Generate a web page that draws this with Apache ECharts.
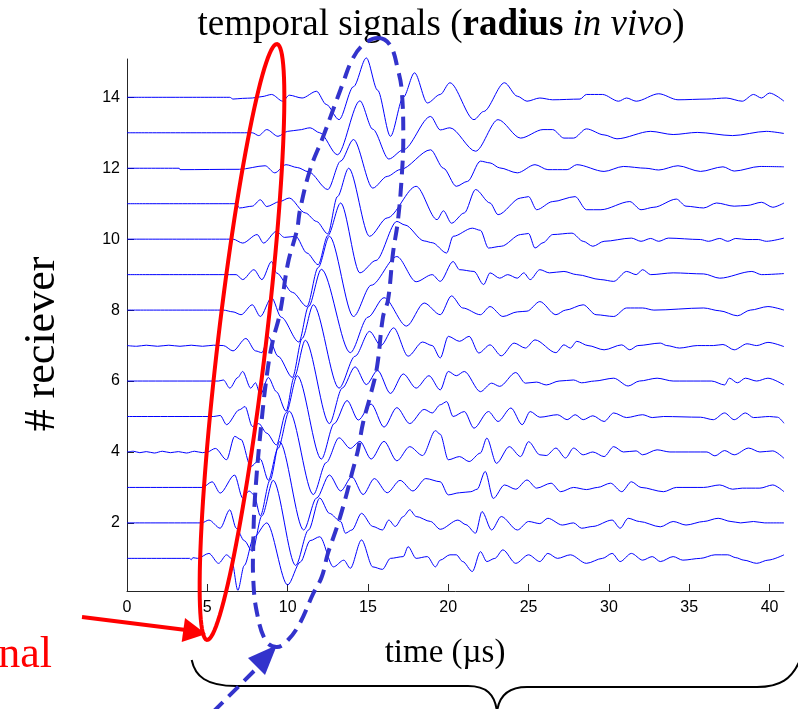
<!DOCTYPE html>
<html><head><meta charset="utf-8">
<script src="https://cdn.jsdelivr.net/npm/echarts@6/dist/echarts.min.js"></script>
<style>html,body{margin:0;padding:0;background:#fff}#c{width:798px;height:709px}</style>
</head><body><div id="c"></div>
<script>
const xTicks = [0, 5, 10, 15, 20, 25, 30, 35, 40];
const yTicks = [2, 4, 6, 8, 10, 12, 14];
const receivers = [1,2,3,4,5,6,7,8,9,10,11,12,13,14];
// each trace: [time (µs), amplitude about its receiver baseline]
const tr1 = [[0,0],[3.9,0],[4.0,-0.04],[4.1,0.02],[4.4,0],[5.1,0.14],[5.7,-0.14],[6.2,0.1],[6.5,0.0],[6.9,-0.9],[7.3,-0.2],[7.9,0.6],[8.7,1.0],[10.0,-0.75],[10.8,-0.1],[11.4,0.5],[12.0,0.61],[12.85,-0.24],[13.5,-0.05],[13.9,-0.28],[14.6,0.52],[15.3,-0.24],[15.9,-0.31],[16.4,0],[17.2,0.05],[17.5,0.33],[18.0,0],[18.7,0.05],[19.2,-0.24],[19.5,-0.05],[20.1,0.1],[20.5,0.1],[20.9,-0.09],[21.5,-0.37],[22.0,0.19],[22.4,-0.09],[22.9,0.0],[23.4,0.24],[24.2,-0.14],[25.0,0.1],[25.7,-0.09],[26.2,0.14],[26.8,0.0],[27.6,0.1],[28.6,-0.14],[29.6,0.0],[30.2,0.14],[30.7,-0.09],[31.4,0.14],[32.1,-0.05],[32.7,0.05],[33.2,-0.09],[34.0,0.05],[34.6,-0.05],[35.7,0.0],[36.6,0.1],[37.4,0.1],[37.9,0.02],[38.4,-0.05],[39.2,-0.14],[39.9,-0.05],[40.9,0.1]];
const tr2 = [[0,0],[4.65,0],[5.1,0.08],[5.8,-0.15],[6.4,0.37],[6.8,-0.15],[7.3,-0.5],[7.8,-0.8],[8.4,0.2],[9.1,1.2],[10.5,-1.2],[11.3,-0.2],[12.0,0.7],[12.6,0.27],[13.3,0.04],[13.6,-0.29],[14.0,-0.2],[14.6,0.27],[15.3,-0.1],[15.9,-0.2],[16.3,0.08],[16.7,-0.1],[17.2,0.18],[17.6,0.37],[18.0,0.18],[18.9,0.04],[19.5,-0.18],[20.6,0.08],[21.1,-0.05],[21.7,-0.29],[22.1,0.32],[22.7,-0.2],[23.3,0.18],[24.3,-0.2],[25.0,0.04],[25.7,-0.02],[26.2,0.13],[27.1,-0.06],[27.8,0.0],[28.3,-0.15],[29.0,-0.1],[30.2,0.08],[30.7,-0.15],[31.2,0.13],[31.9,0.04],[33.2,-0.11],[34.0,0.04],[34.8,-0.06],[35.9,0.04],[36.8,0.13],[37.6,0.04],[38.2,0.0],[39.0,0.04],[39.7,0.0],[40.9,0.0]];
const tr3 = [[0,0],[4.7,0],[5.3,0.16],[5.8,-0.16],[6.7,0.35],[7.2,-0.3],[7.6,-0.1],[7.9,-0.2],[8.3,-0.8],[8.9,0.2],[9.5,1.29],[11.0,-1.2],[11.8,-0.3],[12.6,0.35],[13.3,-0.1],[14.0,0.3],[14.7,-0.2],[15.4,0.25],[16.2,-0.15],[17.0,0.2],[17.8,-0.1],[18.6,0.25],[19.5,0.16],[20.0,-0.21],[20.7,-0.15],[21.4,-0.12],[21.8,-0.05],[22.3,0.45],[22.8,-0.31],[23.5,0.07],[24.2,-0.05],[24.9,0.21],[25.5,-0.02],[26.4,0.12],[27.0,-0.12],[27.8,0.0],[28.6,-0.06],[29.3,0.0],[30.1,0.12],[30.8,-0.12],[31.4,0.16],[32.0,0.0],[33.4,-0.12],[34.2,0.0],[35.9,0.0],[36.9,0.07],[37.7,-0.05],[38.3,-0.02],[39.4,-0.02],[40.2,0.07],[40.9,-0.12]];
const tr4 = [[0,0],[0.4,0.02],[0.8,-0.02],[1.2,0.01],[1.7,-0.03],[2.2,0.02],[2.7,-0.02],[3.2,0.01],[3.7,-0.03],[4.2,0.02],[4.7,-0.02],[5.0,0],[5.5,0.1],[6.2,-0.22],[6.7,0.44],[7.1,0.35],[7.7,-0.41],[8.3,-0.2],[8.8,-0.8],[9.4,0.1],[10.1,1.15],[11.6,-1.2],[12.4,-0.3],[13.2,0.4],[13.9,0.1],[14.5,0.3],[15.2,-0.2],[16.0,0.3],[16.8,-0.25],[17.6,0.15],[18.4,-0.1],[19.2,0.6],[19.5,0.5],[20.0,-0.22],[20.7,-0.13],[21.3,-0.27],[22.0,-0.03],[22.4,0.39],[23.0,-0.32],[23.8,0.15],[24.5,-0.13],[25.0,0.29],[25.7,-0.08],[26.1,-0.1],[26.7,0.11],[27.3,-0.17],[27.8,0.11],[28.4,-0.08],[29.0,0.0],[29.7,-0.13],[30.3,0.15],[30.9,0.0],[31.7,0.03],[32.1,-0.08],[33.0,0.06],[33.8,0.0],[35.3,0.0],[36.1,0.0],[36.6,-0.11],[37.2,0.04],[37.8,-0.08],[38.7,0.11],[39.4,0.0],[40.2,0.03],[40.9,-0.18]];
const tr5 = [[0,0],[5.4,0],[5.8,0.03],[6.2,-0.23],[7.0,0.19],[7.35,0.28],[7.8,-0.28],[8.2,-0.2],[8.7,-0.47],[9.3,-0.8],[9.9,0.1],[10.6,1.15],[12.1,-1.2],[12.9,-0.2],[13.7,0.45],[14.4,-0.1],[15.2,0.35],[16.0,-0.3],[16.8,0.25],[17.6,-0.2],[18.5,0.2],[19.0,0.1],[19.5,0.33],[19.9,0.42],[20.3,0.0],[21.0,0.14],[21.6,-0.33],[22.5,0.14],[23.1,-0.14],[23.9,0.24],[24.6,-0.23],[25.1,0.14],[25.7,-0.02],[26.8,0.05],[27.4,-0.09],[27.9,0.05],[28.4,-0.09],[29.0,0.02],[29.7,-0.14],[30.3,0.1],[31.1,-0.03],[32.1,0.05],[32.7,-0.03],[33.4,0.0],[35.7,-0.02],[36.5,-0.09],[37.2,0.1],[37.8,-0.09],[38.5,0.1],[39.0,-0.03],[40.0,0.0],[40.5,-0.02],[40.9,-0.19]];
const tr6 = [[0,0],[5.7,0],[6.0,0.03],[6.4,-0.2],[6.9,0.1],[7.2,0.27],[7.7,-0.2],[8.0,-0.05],[8.3,-0.39],[8.8,0.1],[9.3,-0.3],[9.9,-0.85],[10.4,0.1],[11.1,1.15],[12.6,-1.2],[13.4,-0.2],[14.2,0.4],[14.9,-0.1],[15.6,0.3],[16.4,-0.35],[17.2,0.2],[18.0,-0.2],[18.8,0.15],[19.5,-0.25],[20.0,0.27],[20.5,0.15],[21.0,0.27],[22.0,-0.3],[22.7,-0.06],[23.2,-0.15],[24.2,0.24],[24.8,-0.06],[25.5,-0.03],[26.1,-0.11],[26.9,0.0],[27.8,0.03],[28.3,-0.05],[29.1,0.0],[30.3,0.08],[31.2,-0.14],[31.9,0.0],[33.0,0.08],[34.0,0.0],[35.7,0.0],[36.4,0.0],[37.2,-0.11],[37.5,0.08],[38.0,-0.05],[38.5,0.08],[39.2,0.0],[39.9,0.08],[40.9,-0.11]];
const tr7 = [[0,0],[0.6,-0.02],[1.2,0.01],[1.9,-0.02],[2.6,0.01],[3.3,-0.02],[4.0,0.01],[4.7,-0.02],[5.4,0.01],[6.0,0],[6.6,-0.15],[7.4,0.2],[8.0,-0.15],[8.4,-0.2],[8.8,0.25],[9.4,-0.3],[10.3,-0.9],[10.9,0.2],[11.6,1.15],[13.2,-1.2],[14.2,-0.3],[15.1,0.4],[15.8,0.0],[16.6,0.5],[17.5,-0.3],[18.4,0.1],[19.0,0.0],[19.5,-0.35],[20.0,0.26],[20.7,0.12],[21.3,0.26],[21.9,-0.21],[22.6,0.02],[23.3,-0.29],[24.1,0.07],[24.8,-0.07],[25.4,0.16],[26.7,-0.2],[27.2,0.02],[27.6,-0.07],[28.0,0.12],[28.7,0.0],[29.7,-0.12],[30.8,0.02],[31.3,-0.12],[31.8,0.0],[33.2,0.07],[33.6,0.0],[34.4,-0.07],[35.5,0.0],[36.5,0.0],[37.1,0.03],[37.8,-0.12],[38.6,0.05],[39.2,0.0],[39.9,0.09],[40.9,-0.03]];
const tr8 = [[0,0],[6.0,0],[6.6,-0.05],[7.1,-0.13],[7.8,0.15],[8.3,-0.18],[9.0,0.35],[9.6,-0.2],[10.7,-0.9],[11.3,0.1],[12.1,1.15],[13.9,-1.2],[15.0,-0.2],[16.0,0.35],[17.4,-0.45],[18.5,0.2],[19.5,-0.13],[20.2,0.4],[20.9,0.06],[22.0,-0.13],[22.6,0.1],[23.4,-0.18],[24.3,-0.05],[24.9,-0.03],[25.7,0.24],[26.7,-0.13],[27.3,0.0],[28.4,0.15],[29.2,-0.13],[30.3,-0.18],[31.1,0.06],[32.1,0.06],[32.8,0.0],[35.9,0.06],[36.9,-0.02],[38.0,-0.16],[38.8,0.0],[39.9,0.1],[40.9,0.0]];
const tr9 = [[0,0],[6.8,0],[7.2,-0.14],[7.9,0.14],[8.4,-0.14],[9.0,0.37],[9.3,0.05],[10.3,-0.5],[11.2,-0.9],[11.9,0.2],[12.6,1.08],[14.1,-1.18],[15.2,-0.3],[16.8,0.51],[18.0,-0.2],[19.0,0.0],[19.5,-0.19],[20.3,0.37],[20.7,0.14],[21.6,0.09],[22.2,-0.28],[22.6,0.05],[23.2,-0.1],[23.7,0.0],[24.3,-0.1],[24.7,0.05],[25.1,-0.14],[25.7,0.14],[26.3,0.05],[27.2,0.09],[28.0,0.0],[29.5,-0.14],[30.3,-0.19],[31.1,0.09],[31.7,0.0],[32.1,0.14],[32.6,0.0],[34.0,0.05],[35.9,0.02],[36.9,-0.1],[38.9,0.09],[39.5,0.0],[40.9,0.03]];
const tr10 = [[0,0],[6.6,0],[7.2,-0.11],[8.1,0.13],[8.5,-0.11],[9.3,0.22],[9.8,0.05],[10.5,0.08],[11.2,-0.39],[11.9,-0.72],[12.5,0.1],[13.3,1.02],[14.5,-0.95],[15.5,-0.6],[16.8,0.5],[17.3,0.4],[18.5,-0.05],[19.0,-0.1],[19.9,-0.39],[20.3,0.08],[21.5,0.31],[22.0,0.25],[22.5,-0.25],[23.3,-0.2],[24.5,0.13],[25.0,0.16],[25.4,-0.25],[25.9,-0.1],[26.5,0.13],[27.7,0.17],[28.4,-0.06],[29.0,-0.2],[29.7,-0.06],[31.4,0.03],[32.0,-0.06],[32.6,0.02],[33.1,-0.06],[33.7,0.03],[35.7,-0.01],[36.2,-0.06],[36.9,0.02],[37.4,-0.06],[37.9,0.02],[38.6,-0.01],[39.3,-0.01],[39.8,-0.06],[40.9,0.03]];
const tr11 = [[0,0],[6.8,0],[7.0,-0.12],[7.8,-0.07],[8.3,0.11],[8.7,-0.08],[9.5,0.06],[10.1,0.16],[11.1,-0.26],[11.8,-0.5],[12.5,-0.85],[13.1,0.2],[13.8,1.0],[15.1,-0.92],[16.2,-0.4],[18.0,0.49],[19.3,-0.45],[19.7,-0.2],[20.2,-0.55],[21.0,-0.26],[21.7,0.4],[22.6,0.02],[23.1,-0.31],[24.5,0.16],[25.0,0.2],[25.5,-0.17],[26.5,0.06],[27.9,0.2],[28.6,-0.17],[29.5,-0.17],[31.3,0.06],[32.0,-0.17],[32.8,-0.1],[34.2,0.13],[34.8,-0.07],[35.9,-0.12],[36.7,0.02],[37.8,-0.07],[38.6,-0.05],[39.5,0.04],[40.2,-0.1],[40.9,0.02]];
const tr12 = [[0,0],[3.25,0],[3.3,-0.04],[7.0,-0.03],[8.6,0.07],[9.2,-0.13],[9.9,0.1],[10.6,0.02],[11.3,-0.1],[12.5,-0.6],[13.3,0.2],[14.1,0.81],[15.3,-0.56],[16.2,-0.23],[17.0,-0.04],[18.9,0.52],[19.7,0.0],[20.5,-0.51],[21.2,-0.37],[22.0,0.2],[22.6,0.15],[23.2,0.01],[24.3,-0.13],[25.4,0.1],[26.2,-0.04],[27.4,-0.04],[28.0,0.1],[29.7,-0.09],[30.9,0.05],[32.3,0.0],[33.1,-0.05],[34.3,0.07],[35.7,-0.09],[37.1,0.04],[37.8,-0.08],[39.4,0.05],[40.9,0.04]];
const tr13 = [[0,0],[7.8,0],[8.2,-0.08],[8.7,0.09],[9.4,-0.1],[10.0,0.04],[10.7,0.08],[11.4,0.14],[12.0,0],[13.1,-0.62],[14.5,0.9],[15.3,0.1],[16.3,-0.74],[17.2,-0.48],[18.9,0.46],[19.5,0.08],[20.1,0.14],[21.7,-0.52],[23.1,0.37],[24.5,-0.15],[25.9,0.09],[26.5,0.09],[27.2,-0.15],[27.8,-0.15],[28.6,0.11],[29.7,-0.06],[30.5,-0.17],[32.6,0.04],[34.0,-0.05],[35.5,0.01],[37.7,-0.08],[39.8,0.04],[40.9,-0.02]];
const tr14 = [[0,0],[6.4,0],[6.6,-0.05],[7.2,-0.03],[7.8,-0.02],[8.4,0.02],[9.0,0.08],[9.7,-0.11],[10.1,0.06],[10.9,-0.02],[11.8,0.17],[12.4,-0.2],[13.2,-0.63],[14.1,0.3],[14.9,1.11],[15.6,0.2],[16.4,-1.1],[17.2,0.0],[17.9,0.69],[18.7,-0.16],[19.5,0.08],[20.1,0.41],[21.6,-0.63],[22.2,-0.4],[23.5,0.41],[24.3,0.03],[24.9,-0.11],[25.7,-0.02],[26.5,-0.07],[28.2,-0.05],[28.6,0.08],[29.6,0.08],[30.6,-0.11],[31.1,-0.02],[31.7,-0.11],[33.1,0.1],[34.3,-0.07],[36.1,-0.05],[37.3,-0.02],[38.3,-0.11],[39.0,0.08],[39.5,-0.02],[40.0,0.12],[40.9,-0.11]];
const traces = [tr1,tr2,tr3,tr4,tr5,tr6,tr7,tr8,tr9,tr10,tr11,tr12,tr13,tr14];

const chart = echarts.init(document.getElementById('c'), null, {renderer:'canvas'});
const serif = '"Liberation Serif","Times New Roman",serif';
const sans = '"Liberation Sans",Arial,sans-serif';
const axisCol = '#262626';
const series = receivers.map((k, i) => ({
  type: 'line', name: 'r' + k, showSymbol: false, symbol: 'none',
  smooth: 0.3, smoothMonotone: 'x',
  lineStyle: {color: '#0000ff', width: 1}, animation: false, clip: false,
  data: traces[i].map(p => [p[0], k + p[1]])
}));

function ellipsePts(cx, cy, rx, ry, rotDeg, n) {
  const r = rotDeg * Math.PI / 180, pts = [];
  for (let i = 0; i < n; i++) {
    const a = 2 * Math.PI * i / n;
    const x = rx * Math.cos(a), y = ry * Math.sin(a);
    pts.push([cx + x * Math.cos(r) - y * Math.sin(r), cy + x * Math.sin(r) + y * Math.cos(r)]);
  }
  return pts;
}
const blueDash = [[378,38],[390,45],[398,70],[401.7,90],[403.3,137],[401.7,177],[398,220],[393,253],[388,300],[383,317],[377,367],[370,397],[363,423],[358,450],[352,473],[345,500],[337,527],[328,553],[321.7,577],[313,594],[300,623],[288,640],[277,647],[266,641],[257,613],[253.3,580],[253.3,543],[255,497],[261.7,420],[268,367],[273,340],[280,313],[288,263],[297,230],[300,210],[310,170],[323,137],[333,110],[343,83],[352,60],[363,45]];
const brace = {fill: 'none', stroke: '#000', lineWidth: 2};

chart.setOption({
  animation: false,
  backgroundColor: '#fff',
  grid: {left: 127, right: 14, top: 59, bottom: 118, containLabel: false},
  xAxis: {
    type: 'value', min: 0, max: 40.9,
    axisLine: {show: true, lineStyle: {color: axisCol, width: 1}},
    axisTick: {show: true, inside: true, length: 7, customValues: xTicks, lineStyle: {color: axisCol}},
    axisLabel: {customValues: xTicks, color: '#000', fontFamily: sans, fontSize: 16, margin: 9},
    splitLine: {show: false}
  },
  yAxis: {
    type: 'value', min: 0.08, max: 15.08,
    axisLine: {show: true, lineStyle: {color: axisCol, width: 1}},
    axisTick: {show: true, inside: true, length: 7, customValues: yTicks, lineStyle: {color: axisCol}},
    axisLabel: {customValues: yTicks, color: '#000', fontFamily: sans, fontSize: 16, margin: 7},
    splitLine: {show: false}
  },
  series: series,
  graphic: [
    {type: 'text', x: 441, y: 25, style: {
      rich: {n: {fontFamily: serif, fontSize: 37, fill: '#000'}, b: {fontFamily: serif, fontSize: 37, fontWeight: 'bold', fill: '#000'}, i: {fontFamily: serif, fontSize: 37, fontStyle: 'italic', fill: '#000'}},
      text: '{n|temporal signals (}{b|radius}{n| }{i|in vivo}{n|)}', align: 'center', verticalAlign: 'middle'
    }},
    {type: 'text', x: 42, y: 344, rotation: Math.PI / 2, style: {text: '# reciever', fontFamily: serif, fontSize: 44, fill: '#000', align: 'center', verticalAlign: 'middle'}},
    {type: 'text', x: 445, y: 653, style: {text: 'time (µs)', fontFamily: serif, fontSize: 33, fill: '#000', align: 'center', verticalAlign: 'middle'}},
    {type: 'polygon', z: 10, shape: {points: ellipsePts(242, 342, 24, 300, 6.7, 120)}, style: {fill: 'none', stroke: '#ff0000', lineWidth: 4}},
    {type: 'polygon', z: 10, shape: {points: blueDash, smooth: 0.4}, style: {fill: 'none', stroke: '#3333cc', lineWidth: 4, lineDash: [14, 8]}},
    {type: 'line', z: 10, shape: {x1: 82, y1: 617, x2: 186, y2: 630}, style: {stroke: '#ff0000', lineWidth: 4}},
    {type: 'polygon', z: 10, shape: {points: [[206,634],[185,618],[181.7,642]]}, style: {fill: '#ff0000'}},
    {type: 'text', x: 52, y: 633, style: {text: 'nal', fontFamily: serif, fontSize: 44, fill: '#ff0000', align: 'right', verticalAlign: 'alphabetic'}},
    {type: 'line', z: 10, shape: {x1: 213, y1: 712, x2: 258, y2: 667}, style: {stroke: '#3333cc', lineWidth: 4, lineDash: [14, 8]}},
    {type: 'polygon', z: 10, shape: {points: [[277,645],[248,658],[265,675]]}, style: {fill: '#3333cc'}},
    {type: 'bezierCurve', shape: {x1: 191.7, y1: 660, cpx1: 195, cpy1: 676, cpx2: 206, cpy2: 686, x2: 236, y2: 686}, style: brace},
    {type: 'line', shape: {x1: 236, y1: 686, x2: 468, y2: 686}, style: brace},
    {type: 'bezierCurve', shape: {x1: 468, y1: 686, cpx1: 486, cpy1: 686, cpx2: 495, cpy2: 694, x2: 497, y2: 712}, style: brace},
    {type: 'bezierCurve', shape: {x1: 497, y1: 712, cpx1: 499, cpy1: 695, cpx2: 509, cpy2: 687, x2: 527, y2: 687}, style: brace},
    {type: 'line', shape: {x1: 527, y1: 687, x2: 757, y2: 687}, style: brace},
    {type: 'bezierCurve', shape: {x1: 757, y1: 687, cpx1: 780, cpy1: 687, cpx2: 792, cpy2: 679, x2: 800, y2: 660}, style: brace}
  ]
});
</script></body></html>
